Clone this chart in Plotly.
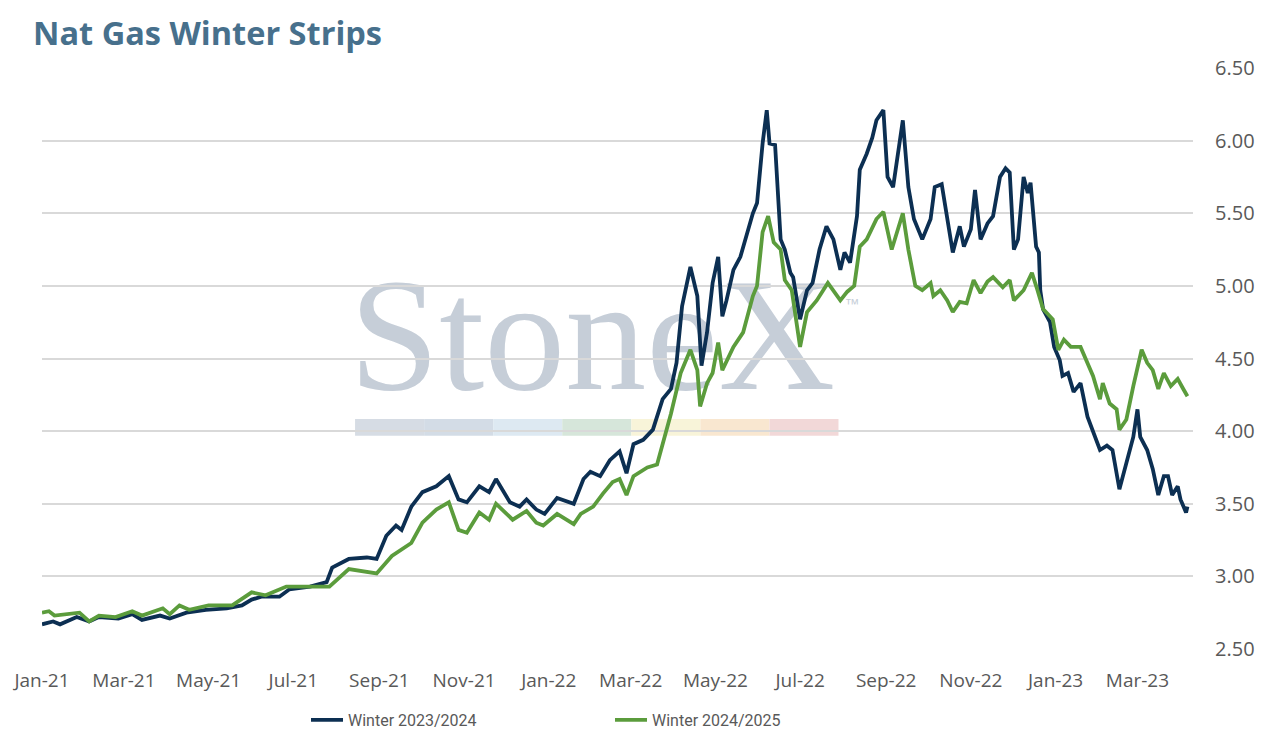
import plotly.graph_objects as go

# Winter 2023/2024 strip (navy)
W23_DATES = [
    "2021-01-01", "2021-01-09", "2021-01-14", "2021-01-26", "2021-02-04", "2021-02-11",
    "2021-02-25", "2021-03-07", "2021-03-14", "2021-03-27", "2021-04-03", "2021-04-15",
    "2021-04-29", "2021-05-14", "2021-05-25", "2021-06-01", "2021-06-08", "2021-06-21",
    "2021-06-28", "2021-07-13", "2021-07-25", "2021-07-29", "2021-08-10", "2021-08-23",
    "2021-08-30", "2021-09-06", "2021-09-13", "2021-09-17", "2021-09-24", "2021-10-02",
    "2021-10-12", "2021-10-21", "2021-10-28", "2021-11-03", "2021-11-12", "2021-11-19",
    "2021-11-24", "2021-12-04", "2021-12-11", "2021-12-16", "2021-12-23", "2021-12-29",
    "2022-01-07", "2022-01-19", "2022-01-26", "2022-01-31", "2022-02-07", "2022-02-14",
    "2022-02-21", "2022-02-26", "2022-03-03", "2022-03-10", "2022-03-17", "2022-03-24",
    "2022-03-30", "2022-04-03", "2022-04-07", "2022-04-13", "2022-04-18", "2022-04-21",
    "2022-04-25", "2022-04-29", "2022-05-03", "2022-05-06", "2022-05-09", "2022-05-14",
    "2022-05-19", "2022-05-24", "2022-05-28", "2022-05-31", "2022-06-04", "2022-06-07",
    "2022-06-09", "2022-06-13", "2022-06-17", "2022-06-20", "2022-06-24", "2022-06-26",
    "2022-07-01", "2022-07-06", "2022-07-10", "2022-07-15", "2022-07-20", "2022-07-25",
    "2022-07-30", "2022-08-02", "2022-08-06", "2022-08-11", "2022-08-13", "2022-08-18",
    "2022-08-22", "2022-08-25", "2022-08-30", "2022-09-02", "2022-09-06", "2022-09-13",
    "2022-09-17", "2022-09-21", "2022-09-27", "2022-10-03", "2022-10-06", "2022-10-11",
    "2022-10-15", "2022-10-19", "2022-10-24", "2022-10-27", "2022-11-01", "2022-11-04",
    "2022-11-08", "2022-11-13", "2022-11-17", "2022-11-22", "2022-11-26", "2022-11-29",
    "2022-12-02", "2022-12-05", "2022-12-09", "2022-12-12", "2022-12-14", "2022-12-18",
    "2022-12-20", "2022-12-21", "2022-12-23", "2022-12-28", "2022-12-31", "2023-01-04",
    "2023-01-06", "2023-01-10", "2023-01-14", "2023-01-19", "2023-01-24", "2023-01-28",
    "2023-02-02", "2023-02-07", "2023-02-11", "2023-02-16", "2023-02-21", "2023-02-26",
    "2023-03-01", "2023-03-03", "2023-03-08", "2023-03-12", "2023-03-16", "2023-03-20",
    "2023-03-23", "2023-03-26", "2023-03-30", "2023-04-01", "2023-04-05", "2023-04-06",
]
W23_VALUES = [
    2.67, 2.69, 2.67, 2.72, 2.69, 2.72,
    2.71, 2.74, 2.70, 2.73, 2.71, 2.75,
    2.77, 2.78, 2.80, 2.84, 2.86, 2.86,
    2.91, 2.93, 2.96, 3.06, 3.12, 3.13,
    3.12, 3.28, 3.35, 3.32, 3.48, 3.58,
    3.62, 3.69, 3.53, 3.51, 3.62, 3.58,
    3.67, 3.51, 3.48, 3.53, 3.46, 3.43,
    3.54, 3.50, 3.67, 3.72, 3.69, 3.80,
    3.86, 3.71, 3.91, 3.94, 4.01, 4.22,
    4.29, 4.47, 4.86, 5.13, 4.93, 4.45,
    4.68, 5.02, 5.20, 4.79, 4.90, 5.11,
    5.20, 5.37, 5.50, 5.57, 5.98, 6.21,
    5.98, 5.97, 5.32, 5.25, 5.09, 5.06,
    4.77, 4.97, 5.02, 5.25, 5.41, 5.32,
    5.11, 5.23, 5.16, 5.48, 5.80, 5.91,
    6.02, 6.14, 6.21, 5.75, 5.68, 6.14,
    5.68, 5.46, 5.32, 5.46, 5.68, 5.70,
    5.46, 5.23, 5.41, 5.27, 5.39, 5.66,
    5.32, 5.43, 5.48, 5.75, 5.81, 5.78,
    5.25, 5.32, 5.75, 5.64, 5.71, 5.27,
    5.23, 4.97, 4.84, 4.75, 4.58, 4.49,
    4.38, 4.40, 4.27, 4.33, 4.10, 3.99,
    3.87, 3.90, 3.87, 3.60, 3.78, 3.96,
    4.15, 3.96, 3.87, 3.74, 3.56, 3.69,
    3.69, 3.56, 3.62, 3.53, 3.44, 3.48,
]

# Winter 2024/2025 strip (green)
W24_DATES = [
    "2021-01-01", "2021-01-06", "2021-01-10", "2021-01-19", "2021-01-28", "2021-02-04",
    "2021-02-11", "2021-02-23", "2021-03-07", "2021-03-14", "2021-03-29", "2021-04-03",
    "2021-04-10", "2021-04-17", "2021-05-01", "2021-05-18", "2021-06-01", "2021-06-11",
    "2021-06-26", "2021-07-10", "2021-07-27", "2021-08-10", "2021-08-30", "2021-09-10",
    "2021-09-24", "2021-10-02", "2021-10-12", "2021-10-21", "2021-10-28", "2021-11-03",
    "2021-11-12", "2021-11-19", "2021-11-24", "2021-12-06", "2021-12-16", "2021-12-23",
    "2021-12-28", "2022-01-07", "2022-01-19", "2022-01-24", "2022-02-02", "2022-02-09",
    "2022-02-16", "2022-02-21", "2022-02-26", "2022-03-03", "2022-03-13", "2022-03-20",
    "2022-03-25", "2022-03-30", "2022-04-06", "2022-04-13", "2022-04-18", "2022-04-20",
    "2022-04-25", "2022-04-29", "2022-05-03", "2022-05-06", "2022-05-14", "2022-05-21",
    "2022-05-28", "2022-05-31", "2022-06-04", "2022-06-08", "2022-06-12", "2022-06-17",
    "2022-06-20", "2022-06-25", "2022-07-01", "2022-07-06", "2022-07-13", "2022-07-21",
    "2022-07-30", "2022-08-04", "2022-08-09", "2022-08-13", "2022-08-18", "2022-08-25",
    "2022-08-30", "2022-09-05", "2022-09-13", "2022-09-17", "2022-09-22", "2022-09-27",
    "2022-10-03", "2022-10-05", "2022-10-10", "2022-10-15", "2022-10-19", "2022-10-24",
    "2022-10-29", "2022-11-03", "2022-11-08", "2022-11-13", "2022-11-17", "2022-11-24",
    "2022-11-29", "2022-12-02", "2022-12-09", "2022-12-15", "2022-12-19", "2022-12-23",
    "2022-12-30", "2023-01-03", "2023-01-07", "2023-01-12", "2023-01-19", "2023-01-24",
    "2023-01-28", "2023-02-02", "2023-02-04", "2023-02-09", "2023-02-14", "2023-02-16",
    "2023-02-21", "2023-02-26", "2023-03-04", "2023-03-08", "2023-03-12", "2023-03-16",
    "2023-03-20", "2023-03-25", "2023-03-30", "2023-04-03", "2023-04-06",
]
W24_VALUES = [
    2.75, 2.76, 2.73, 2.74, 2.75, 2.69,
    2.73, 2.72, 2.76, 2.73, 2.78, 2.74,
    2.80, 2.77, 2.80, 2.80, 2.89, 2.87,
    2.93, 2.93, 2.93, 3.05, 3.02, 3.14,
    3.23, 3.37, 3.46, 3.51, 3.32, 3.30,
    3.44, 3.39, 3.50, 3.39, 3.45, 3.37,
    3.35, 3.43, 3.36, 3.43, 3.48, 3.57,
    3.65, 3.67, 3.56, 3.69, 3.75, 3.77,
    3.94, 4.12, 4.40, 4.56, 4.42, 4.17,
    4.33, 4.40, 4.61, 4.42, 4.58, 4.68,
    4.93, 5.00, 5.37, 5.48, 5.30, 5.25,
    5.04, 4.97, 4.58, 4.82, 4.90, 5.02,
    4.90, 4.96, 5.00, 5.27, 5.32, 5.46,
    5.51, 5.25, 5.50, 5.25, 5.00, 4.97,
    5.02, 4.93, 4.97, 4.90, 4.82, 4.89,
    4.88, 5.04, 4.95, 5.03, 5.06, 4.99,
    5.04, 4.90, 4.97, 5.09, 4.97, 4.84,
    4.77, 4.56, 4.63, 4.58, 4.58, 4.47,
    4.38, 4.22, 4.33, 4.19, 4.15, 4.01,
    4.08, 4.31, 4.56, 4.47, 4.42, 4.29,
    4.40, 4.31, 4.36, 4.29, 4.24,
]

NAVY = "#0c2f52"
GREEN = "#5b9c3c"
GREY_TEXT = "#595959"
WATERMARK = "#c6ced8"

fig = go.Figure()

fig.add_trace(go.Scatter(
    x=W23_DATES, y=W23_VALUES, mode="lines", name="Winter 2023/2024",
    line=dict(color=NAVY, width=3.8),
))
fig.add_trace(go.Scatter(
    x=W24_DATES, y=W24_VALUES, mode="lines", name="Winter 2024/2025",
    line=dict(color=GREEN, width=3.8),
))

# StoneX watermark, sits under gridlines and lines
shapes = [
    dict(
        type="rect", xref="paper", yref="paper",
        x0=0.296, x1=0.660, y0=0.452, y1=0.692,
        line=dict(width=0), fillcolor="rgba(0,0,0,0)", layer="below",
        label=dict(
            text="StoneX", textposition="middle center",
            font=dict(family="Liberation Serif", size=162, color=WATERMARK),
        ),
    ),
    dict(
        type="rect", xref="paper", yref="paper",
        x0=0.68, x1=0.728, y0=0.567, y1=0.627,
        line=dict(width=0), fillcolor="rgba(0,0,0,0)", layer="below",
        label=dict(
            text="™", textposition="middle center",
            font=dict(family="Liberation Sans", size=15, color=WATERMARK),
        ),
    ),
]
bar_colors = ["#d6dce4", "#d3dce6", "#dde9f2", "#d6e6da", "#f8f4d9", "#f9e7d0", "#f2d8d8"]
for k, col in enumerate(bar_colors):
    shapes.append(dict(
        type="rect", xref="paper", yref="paper",
        x0=0.272 + k * 0.06, x1=0.272 + (k + 1) * 0.06, y0=0.367, y1=0.396,
        line=dict(width=0), fillcolor=col, layer="below",
    ))

# page body has an 8px margin, so the figure is 8px smaller each way
fig.update_layout(
    width=1259,
    height=732,
    paper_bgcolor="white",
    plot_bgcolor="white",
    margin=dict(l=34, r=74, t=60, b=91, autoexpand=False),
    title=dict(
        text="<b>Nat Gas Winter Strips</b>",
        x=0.0199, xref="container", xanchor="left",
        y=0.9645, yref="container", yanchor="middle",
        font=dict(family="Open Sans", size=32.5, color="#47708c"),
    ),
    font=dict(family="Open Sans", color=GREY_TEXT),
    shapes=shapes,
    showlegend=True,
    legend=dict(
        orientation="h",
        xref="container", x=0.2367, xanchor="left",
        yref="container", y=0.0273, yanchor="middle",
        entrywidth=257,
        itemwidth=32,
        font=dict(family="Roboto", size=16, color=GREY_TEXT),
    ),
)

fig.update_xaxes(
    type="date",
    range=["2021-01-01", "2023-04-10"],
    tick0="2021-01-01",
    dtick="M2",
    tickformat="%b-%y",
    showgrid=False,
    zeroline=False,
    showline=False,
    ticks="",
    automargin=False,
    ticklabelstandoff=18,
    tickfont=dict(size=19, color=GREY_TEXT),
)
fig.update_yaxes(
    side="right",
    range=[2.5, 6.5],
    dtick=0.5,
    tickformat=".2f",
    showgrid=True,
    gridcolor="#d9d9d9",
    gridwidth=1.5,
    zeroline=False,
    showline=False,
    ticks="",
    automargin=False,
    ticklabelstandoff=21,
    tickfont=dict(size=20, color=GREY_TEXT),
)

fig.write_html("out.html")
